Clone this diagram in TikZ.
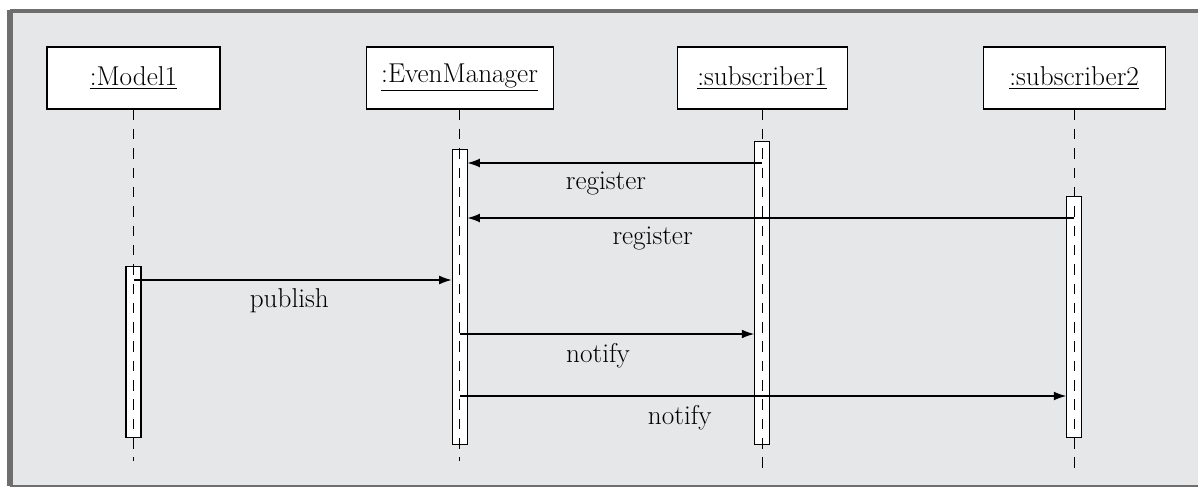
\documentclass[tikz,border=0pt]{standalone}
\usepackage{tikz}
\usetikzlibrary{positioning, arrows.meta}

\definecolor{panelgray}{RGB}{230,231,233}
\definecolor{framegray}{RGB}{110,110,110}

\tikzset{
    obj/.style={draw, rectangle, fill=white, line width=0.6pt, minimum width=3.46cm, minimum height=1.24cm, font=\fontsize{15.5}{19}\selectfont},
    act/.style={draw, rectangle, fill=white, line width=0.6pt, minimum width=0.3cm, inner sep=0pt},
    life/.style={line width=0.6pt, dash pattern=on 6pt off 5pt},
    msg/.style={line width=0.6pt, -{Latex[length=7pt, width=5pt]}},
    lbl/.style={font=\fontsize{15.5}{19}\selectfont, below=1.5pt}
}

\begin{document}
\begin{tikzpicture}
    \useasboundingbox (0,0) rectangle (23.96,-9.76);
    % Panel
    \fill[white] (0,0) rectangle (23.96,-9.76);
    \fill[panelgray] (0.2,-0.22) rectangle (23.96,-9.72);
    \draw[framegray, line width=2pt] (23.96,-0.22) -- (0.2,-0.22);
    \draw[framegray, line width=3pt] (0.2,-0.2) -- (0.2,-9.72);
    \draw[framegray, line width=1.6pt] (0.2,-9.72) -- (23.96,-9.72);

    % Objects
    \node[obj] (model) at (2.67,-1.56) {\underline{:Model1}};
    \node[obj, minimum width=3.74cm, right=2.9cm of model] (manager) {\underline{:EvenManager}};
    \node[obj, minimum width=3.4cm, right=2.46cm of manager] (sub1) {\underline{:subscriber1}};
    \node[obj, minimum width=3.64cm, right=2.7cm of sub1] (sub2) {\underline{:subscriber2}};

    % Activations
    \node[act, minimum height=3.42cm, below=3.12cm of model] (modelact) {};
    \node[act, minimum height=5.9cm, below=0.78cm of manager] (manageract) {};
    \node[act, minimum height=6.06cm, below=0.62cm of sub1] (sub1act) {};
    \node[act, minimum height=4.82cm, below=1.72cm of sub2] (sub2act) {};

    % Lifelines
    \draw[life] (model.south) -- ++(0,-7.02);
    \draw[life] (manager.south) -- ++(0,-7.02);
    \draw[life] (sub1.south) -- ++(0,-7.2);
    \draw[life] (sub2.south) -- ++(0,-7.2);

    % Message levels
    \coordinate (reg1) at (0,-3.26);
    \coordinate (reg2) at (0,-4.36);
    \coordinate (pub) at (0,-5.6);
    \coordinate (not1) at (0,-6.68);
    \coordinate (not2) at (0,-7.92);

    % Messages
    \draw[msg] (sub1.south |- reg1) -- (manageract.east |- reg1) node[lbl, pos=0.53] {register};
    \draw[msg] (sub2.south |- reg2) -- (manageract.east |- reg2) node[lbl, pos=0.695] {register};
    \draw[msg] (model.south |- pub) -- (manageract.west |- pub) node[lbl, pos=0.49] {publish};
    \draw[msg] (manager.south |- not1) -- (sub1act.west |- not1) node[lbl, pos=0.47] {notify};
    \draw[msg] (manager.south |- not2) -- (sub2act.west |- not2) node[lbl, pos=0.363] {notify};
\end{tikzpicture}
\end{document}
